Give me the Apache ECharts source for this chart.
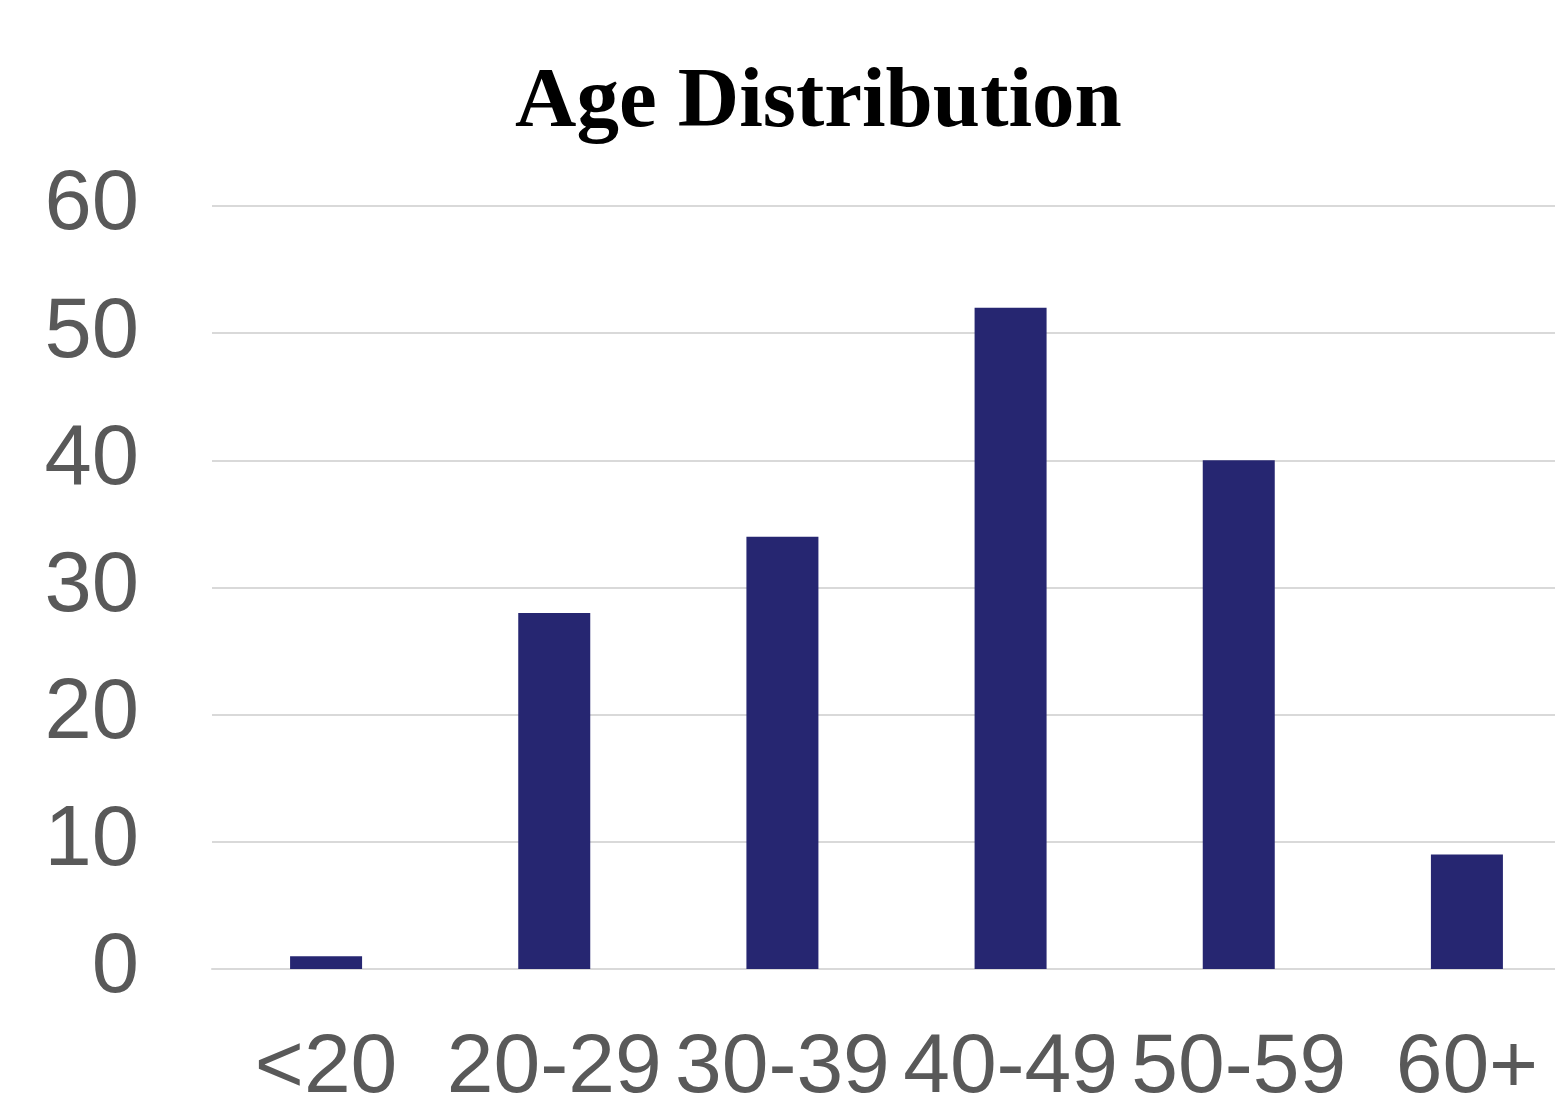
<!DOCTYPE html>
<html>
<head>
<meta charset="utf-8">
<script src="https://cdn.jsdelivr.net/npm/echarts@6/dist/echarts.min.js"></script>
<style>html,body{margin:0;padding:0;background:#fff;}#c{width:1555px;height:1101px;}</style>
</head>
<body>
<div id="c"></div>
<script>
const categories = ['<20', '20-29', '30-39', '40-49', '50-59', '60+'];
const counts = [1, 28, 34, 52, 40, 9];
const titleText = 'Age Distribution';

const chart = echarts.init(document.getElementById('c'), null, {renderer: 'canvas'});
chart.setOption({
  animation: false,
  backgroundColor: '#ffffff',
  title: {
    text: titleText,
    left: 510,
    top: 57,
    textStyle: {fontFamily: 'Liberation Serif', fontWeight: 'bold', fontSize: 85, color: '#000000'}
  },
  grid: {left: 212, width: 1369, top: 206, height: 763, containLabel: false, outerBoundsMode: 'none'},
  xAxis: {
    type: 'category',
    data: categories,
    axisLine: {show: true, lineStyle: {color: '#d9d9d9', width: 2}},
    axisTick: {show: false},
    axisLabel: {interval: 0, hideOverlap: false, fontFamily: 'Liberation Sans', fontSize: 84, color: '#595959', margin: 58}
  },
  yAxis: {
    type: 'value',
    min: 0, max: 60, interval: 10,
    axisLine: {show: false},
    axisTick: {show: false},
    splitLine: {lineStyle: {color: '#d9d9d9', width: 2}},
    axisLabel: {fontFamily: 'Liberation Sans', fontSize: 85, color: '#595959', margin: 73}
  },
  series: [{
    type: 'bar',
    data: counts,
    barWidth: 72,
    itemStyle: {color: '#262671'}
  }]
});
</script>
</body>
</html>
